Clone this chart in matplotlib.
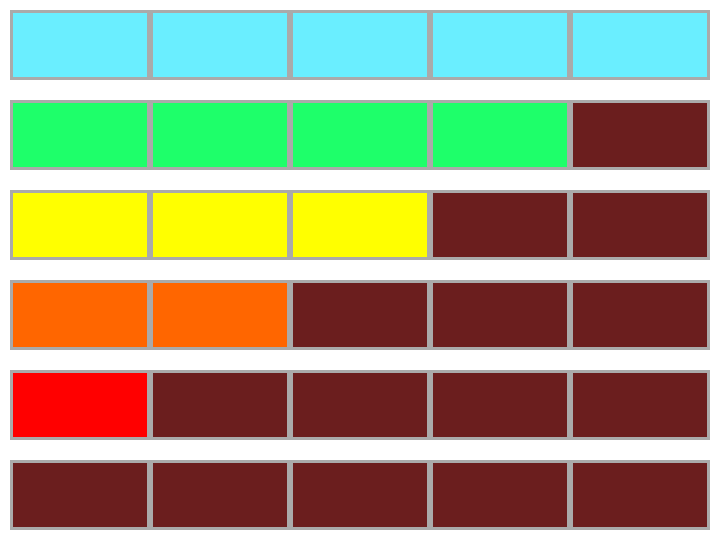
import matplotlib
matplotlib.use("Agg")
import matplotlib.pyplot as plt
import matplotlib.patches as mpatches

# lit cells in each row, top to bottom, and the colour of the lit cells
lit_counts = [5, 4, 3, 2, 1, 0]
row_colors = ["#6aeeff", "#1eff6a", "#ffff00", "#ff6600", "#ff0000", "#6b1e1e"]
off_color = "#6b1e1e"
n_cells = 5

border_color = "#aaaaaa"
cell_w = 140
cell_h = 70
row_step = 90
left = 10
top = 10
bw = 3  # border width in pixels

fig = plt.figure(figsize=(7.2, 5.4), dpi=100)
ax = fig.add_axes([0, 0, 1, 1])
ax.set_xlim(0, 720)
ax.set_ylim(540, 0)
ax.axis("off")

for r, (count, color) in enumerate(zip(lit_counts, row_colors)):
    y = top + r * row_step
    for c in range(n_cells):
        x = left + c * cell_w
        fill = color if c < count else off_color
        # grey frame then the coloured cell inside it
        ax.add_patch(mpatches.Rectangle((x, y), cell_w, cell_h, facecolor=border_color, linewidth=0))
        ax.add_patch(mpatches.Rectangle((x + bw, y + bw), cell_w - 2 * bw, cell_h - 2 * bw,
                                        facecolor=fill, linewidth=0))

fig.savefig("out.png", dpi=100)
